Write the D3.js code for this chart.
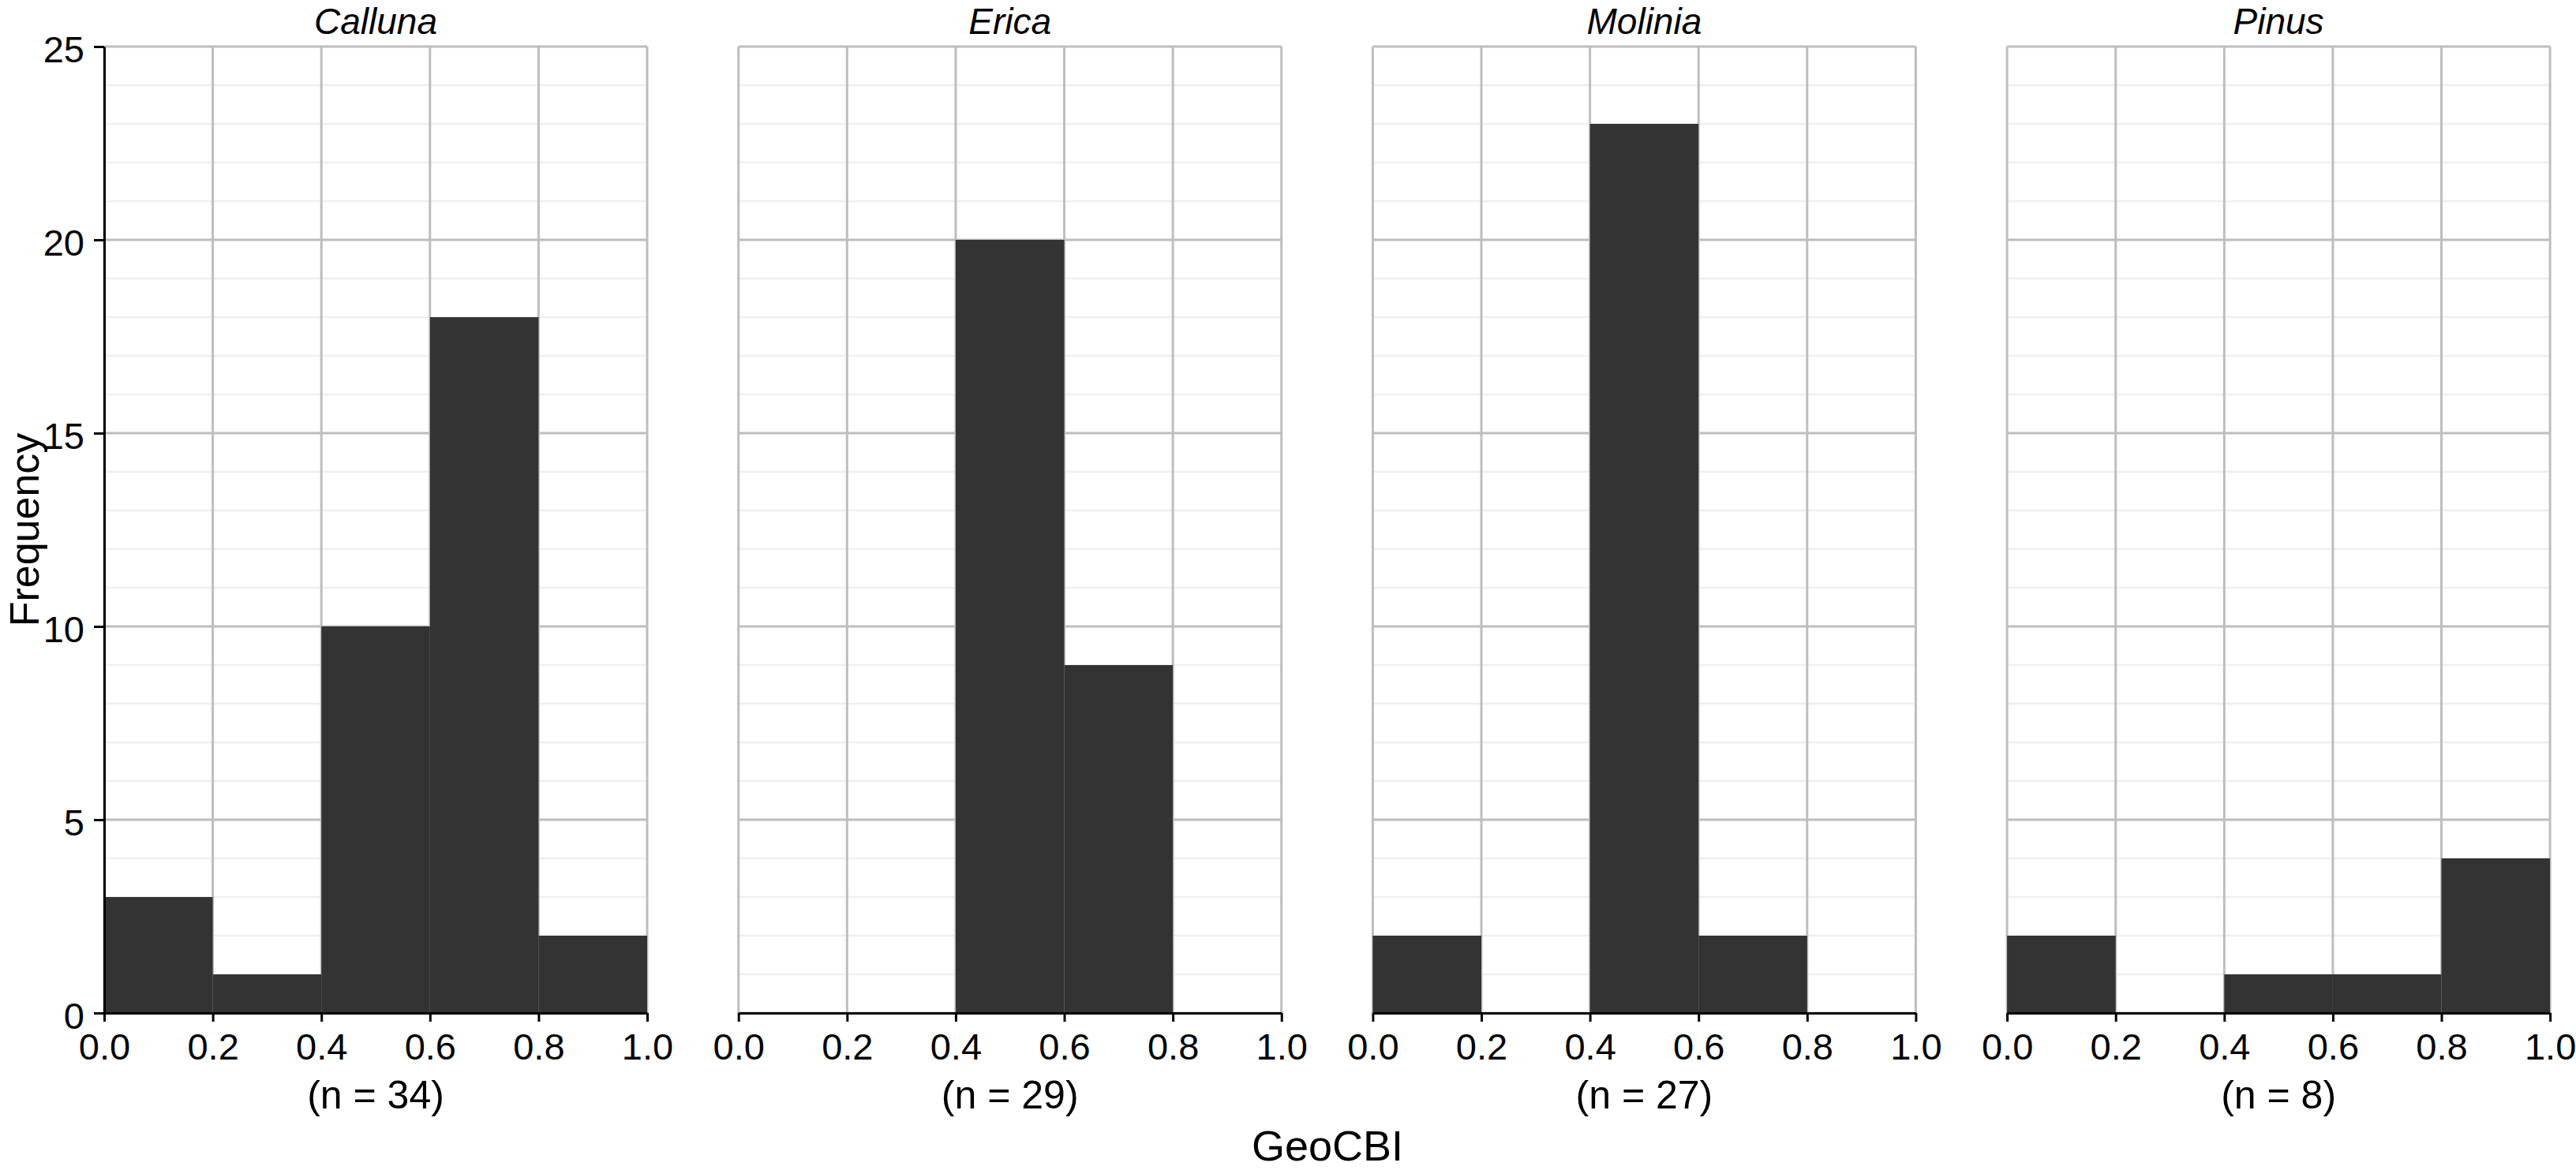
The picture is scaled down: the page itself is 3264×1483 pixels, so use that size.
<!DOCTYPE html>
<html>
<head>
<meta charset="utf-8">
<script src="https://cdn.jsdelivr.net/npm/d3@7"></script>
<style>
  body { margin: 0; background: #fff; }
</style>
</head>
<body>
<div id="chart"></div>
<script>
// histogram data
var species = ['Calluna', 'Erica', 'Molinia', 'Pinus'];
var binEdges = [0, 0.2, 0.4, 0.6, 0.8, 1.0];
var callunaCounts = [3, 1, 10, 18, 2];
var ericaCounts = [0, 0, 20, 9, 0];
var moliniaCounts = [2, 0, 23, 2, 0];
var pinusCounts = [2, 0, 1, 1, 4];
var sampleSizes = [34, 29, 27, 8];
var xTicks = [0, 0.2, 0.4, 0.6, 0.8, 1.0];
var yTicks = [0, 5, 10, 15, 20, 25];

var counts = [callunaCounts, ericaCounts, moliniaCounts, pinusCounts];

var width = 3264, height = 1483;
var margin = {top: 59, left: 132};
var panelW = 688, panelH = 1225, panelGap = 115.7;
var font = 'Liberation Sans, Arial, sans-serif';

var svg = d3.select('#chart').append('svg')
    .attr('width', width)
    .attr('height', height);

var x = d3.scaleLinear().domain([0, 1]).range([0, panelW]);
var y = d3.scaleLinear().domain([0, 25]).range([panelH, 0]);

var minorTicks = d3.range(0, 26).filter(function (d) { return d % 5 !== 0; });

species.forEach(function (name, i) {
    var g = svg.append('g')
        .attr('transform', 'translate(' + (margin.left + i * (panelW + panelGap)) + ',' + margin.top + ')');

    // minor grid
    g.selectAll('line.minor').data(minorTicks).enter().append('line')
        .attr('class', 'minor')
        .attr('x1', 0).attr('x2', panelW)
        .attr('y1', function (d) { return y(d); })
        .attr('y2', function (d) { return y(d); })
        .attr('stroke', '#f0f0f0')
        .attr('stroke-width', 2.5);

    // major grid
    g.selectAll('line.hmajor').data(yTicks).enter().append('line')
        .attr('class', 'hmajor')
        .attr('x1', 0).attr('x2', panelW)
        .attr('y1', function (d) { return y(d); })
        .attr('y2', function (d) { return y(d); })
        .attr('stroke', '#bebebe')
        .attr('stroke-width', 3);

    g.selectAll('line.vmajor').data(xTicks).enter().append('line')
        .attr('class', 'vmajor')
        .attr('y1', 0).attr('y2', panelH)
        .attr('x1', function (d) { return x(d); })
        .attr('x2', function (d) { return x(d); })
        .attr('stroke', '#bebebe')
        .attr('stroke-width', 3);

    // bars
    g.selectAll('rect.bar').data(counts[i]).enter().append('rect')
        .attr('class', 'bar')
        .attr('x', function (d, j) { return x(binEdges[j]); })
        .attr('width', function (d, j) { return x(binEdges[j + 1]) - x(binEdges[j]); })
        .attr('y', function (d) { return y(d); })
        .attr('height', function (d) { return y(0) - y(d); })
        .attr('fill', '#333333');

    // x axis
    var xAxis = g.append('g')
        .attr('transform', 'translate(0,' + panelH + ')')
        .call(d3.axisBottom(x).tickValues(xTicks).tickFormat(d3.format('.1f'))
            .tickSize(11).tickSizeOuter(0).tickPadding(15));
    xAxis.select('.domain').attr('stroke', '#000').attr('stroke-width', 3);
    xAxis.selectAll('.tick line').attr('stroke', '#000').attr('stroke-width', 3);
    xAxis.selectAll('.tick text')
        .style('font-size', '47px')
        .style('font-family', font)
        .attr('fill', '#000');

    if (i === 0) {
        var yAxis = g.append('g')
            .call(d3.axisLeft(y).tickValues(yTicks)
                .tickSize(13).tickSizeOuter(0).tickPadding(12));
        yAxis.select('.domain').attr('stroke', '#000').attr('stroke-width', 3);
        yAxis.selectAll('.tick line').attr('stroke', '#000').attr('stroke-width', 3);
        yAxis.selectAll('.tick text')
            .attr('dy', '0.42em')
            .style('font-size', '47px')
            .style('font-family', font)
            .attr('fill', '#000');
    }

    // strip title
    g.append('text')
        .attr('x', panelW / 2)
        .attr('y', 43 - margin.top)
        .text(name)
        .style('font-size', '46px')
        .style('font-family', font)
        .style('font-style', 'italic')
        .style('text-anchor', 'middle')
        .attr('fill', '#000');

    // sample size
    g.append('text')
        .attr('x', panelW / 2)
        .attr('y', 1405 - margin.top)
        .text('(n = ' + sampleSizes[i] + ')')
        .style('font-size', '50px')
        .style('font-family', font)
        .style('text-anchor', 'middle')
        .attr('fill', '#000');
});

// axis titles
svg.append('text')
    .attr('transform', 'translate(49,' + (margin.top + panelH / 2) + ') rotate(-90)')
    .text('Frequency')
    .style('font-size', '52px')
    .style('font-family', font)
    .style('text-anchor', 'middle')
    .attr('fill', '#000');

svg.append('text')
    .attr('x', 1682)
    .attr('y', 1471)
    .text('GeoCBI')
    .style('font-size', '54px')
    .style('font-family', font)
    .style('text-anchor', 'middle')
    .attr('fill', '#000');
</script>
</body>
</html>
